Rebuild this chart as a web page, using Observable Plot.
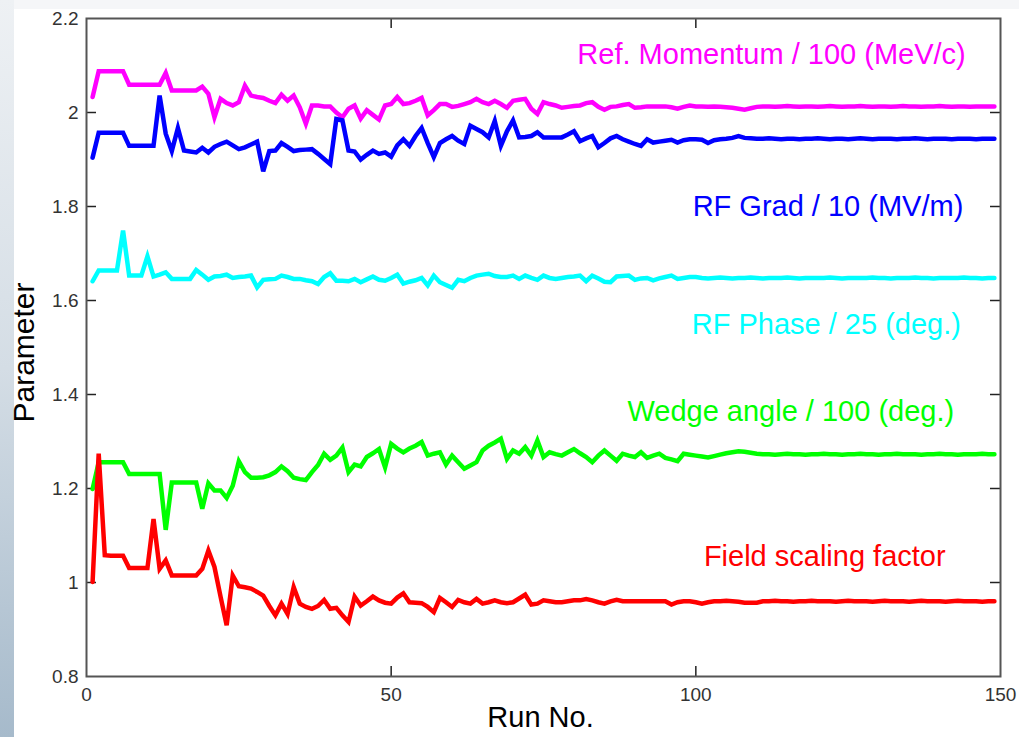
<!DOCTYPE html>
<html><head><meta charset="utf-8">
<script src="https://cdn.jsdelivr.net/npm/d3@7"></script>
<script src="https://cdn.jsdelivr.net/npm/@observablehq/plot@0.6"></script>
<style>
body{margin:0;background:#fff;}
#wrap{position:relative;width:1019px;height:737px;overflow:hidden;background:#fff;}
#topband{position:absolute;left:0;top:0;width:1019px;height:9px;background:#f5f6f8;}
#strip{position:absolute;left:0;top:0;width:14px;height:737px;background:linear-gradient(#eef1f4,#d4dde5 50%,#a6bacb);}
#chart{position:absolute;left:0;top:0;}
</style></head>
<body><div id="wrap"><div id="topband"></div><div id="strip"></div><div id="chart"></div></div>
<script>
// Ref. Momentum / 100 (MeV/c), runs 1..149
const momentum = [
2.033,2.088,2.088,2.088,2.088,2.088,2.059,2.059,2.059,2.059,
2.059,2.059,2.084,2.047,2.047,2.047,2.047,2.047,2.055,2.040,
1.990,2.029,2.020,2.015,2.022,2.057,2.036,2.033,2.031,2.025,
2.020,2.038,2.025,2.036,2.011,1.976,2.015,2.015,2.013,2.013,
2.000,1.990,2.008,2.015,1.987,2.005,1.995,1.985,2.015,2.018,
2.033,2.018,2.020,2.025,2.031,1.994,2.005,2.018,2.018,2.012,
2.014,2.018,2.022,2.029,2.022,2.018,2.025,2.018,2.010,2.025,
2.027,2.029,2.008,1.997,2.022,2.018,2.015,2.010,2.012,2.014,
2.015,2.020,2.022,2.012,2.006,2.012,2.013,2.016,2.018,2.010,
2.011,2.013,2.013,2.013,2.013,2.011,2.008,2.012,2.015,2.013,
2.013,2.012,2.013,2.012,2.011,2.010,2.008,2.006,2.009,2.012,
2.013,2.013,2.012,2.013,2.014,2.013,2.012,2.013,2.013,2.012,
2.013,2.014,2.013,2.012,2.013,2.013,2.014,2.013,2.012,2.013,
2.013,2.012,2.013,2.014,2.013,2.013,2.012,2.013,2.013,2.014,
2.013,2.012,2.013,2.013,2.012,2.013,2.013,2.013,2.013];
// RF Grad / 10 (MV/m)
const rfGrad = [
1.904,1.957,1.957,1.957,1.957,1.957,1.929,1.929,1.929,1.929,
1.929,2.036,1.955,1.918,1.967,1.919,1.917,1.915,1.925,1.915,
1.927,1.933,1.938,1.930,1.922,1.926,1.932,1.938,1.875,1.918,
1.919,1.935,1.927,1.918,1.920,1.921,1.922,1.912,1.901,1.890,
1.986,1.983,1.919,1.917,1.900,1.910,1.919,1.912,1.915,1.906,
1.930,1.943,1.929,1.950,1.967,1.935,1.905,1.935,1.943,1.950,
1.940,1.933,1.972,1.965,1.958,1.947,1.982,1.929,1.960,1.983,
1.947,1.948,1.950,1.958,1.947,1.947,1.947,1.947,1.953,1.960,
1.939,1.945,1.950,1.926,1.935,1.945,1.950,1.943,1.938,1.933,
1.929,1.943,1.936,1.938,1.940,1.942,1.936,1.941,1.943,1.943,
1.942,1.935,1.941,1.943,1.944,1.946,1.950,1.946,1.945,1.944,
1.944,1.945,1.944,1.943,1.944,1.944,1.943,1.944,1.944,1.945,
1.944,1.943,1.944,1.944,1.943,1.944,1.945,1.944,1.943,1.944,
1.944,1.944,1.943,1.944,1.944,1.945,1.944,1.943,1.944,1.944,
1.944,1.943,1.944,1.944,1.944,1.943,1.944,1.944,1.944];
// RF Phase / 25 (deg.)
const rfPhase = [
1.641,1.664,1.664,1.664,1.664,1.749,1.653,1.653,1.653,1.694,
1.651,1.655,1.660,1.646,1.646,1.646,1.646,1.665,1.655,1.644,
1.651,1.652,1.655,1.648,1.650,1.651,1.653,1.628,1.644,1.645,
1.646,1.653,1.650,1.646,1.646,1.643,1.641,1.635,1.650,1.658,
1.642,1.642,1.641,1.646,1.639,1.645,1.651,1.644,1.642,1.648,
1.655,1.636,1.640,1.643,1.648,1.632,1.653,1.639,1.633,1.627,
1.644,1.641,1.648,1.653,1.655,1.657,1.652,1.650,1.650,1.653,
1.646,1.653,1.648,1.644,1.653,1.648,1.646,1.648,1.650,1.651,
1.653,1.641,1.653,1.647,1.640,1.639,1.651,1.652,1.653,1.644,
1.647,1.648,1.643,1.647,1.650,1.653,1.646,1.648,1.650,1.650,
1.648,1.647,1.648,1.649,1.648,1.647,1.648,1.648,1.649,1.648,
1.647,1.648,1.648,1.648,1.649,1.648,1.647,1.648,1.648,1.648,
1.648,1.649,1.648,1.647,1.648,1.648,1.648,1.648,1.649,1.648,
1.648,1.647,1.648,1.648,1.648,1.649,1.648,1.648,1.647,1.648,
1.648,1.648,1.648,1.649,1.648,1.648,1.647,1.648,1.648];
// Wedge angle / 100 (deg.)
const wedge = [
1.199,1.256,1.256,1.256,1.256,1.256,1.231,1.231,1.231,1.231,
1.231,1.231,1.112,1.213,1.213,1.213,1.213,1.213,1.157,1.211,
1.196,1.196,1.180,1.206,1.258,1.235,1.223,1.223,1.224,1.228,
1.235,1.247,1.237,1.223,1.220,1.218,1.235,1.250,1.274,1.261,
1.270,1.287,1.235,1.251,1.247,1.267,1.275,1.284,1.245,1.295,
1.285,1.277,1.285,1.291,1.299,1.270,1.274,1.277,1.251,1.270,
1.256,1.242,1.249,1.256,1.281,1.291,1.298,1.306,1.263,1.281,
1.274,1.288,1.270,1.302,1.267,1.277,1.273,1.270,1.277,1.284,
1.275,1.267,1.256,1.270,1.281,1.270,1.259,1.274,1.270,1.267,
1.277,1.265,1.270,1.274,1.265,1.262,1.258,1.274,1.272,1.270,
1.268,1.266,1.269,1.272,1.275,1.277,1.279,1.278,1.276,1.274,
1.273,1.273,1.272,1.273,1.274,1.273,1.273,1.272,1.273,1.273,
1.274,1.273,1.273,1.272,1.273,1.273,1.274,1.273,1.273,1.272,
1.273,1.273,1.274,1.273,1.273,1.273,1.272,1.273,1.273,1.274,
1.273,1.273,1.272,1.273,1.273,1.273,1.274,1.273,1.273];
// Field scaling factor
const fieldScale = [
1.001,1.274,1.058,1.057,1.057,1.057,1.031,1.031,1.031,1.031,
1.135,1.029,1.047,1.015,1.015,1.015,1.015,1.015,1.029,1.068,
1.033,0.970,0.909,1.015,0.992,0.990,0.987,0.980,0.972,0.950,
0.930,0.955,0.933,0.990,0.955,0.948,0.944,0.950,0.963,0.944,
0.946,0.930,0.916,0.970,0.951,0.960,0.970,0.962,0.957,0.955,
0.968,0.977,0.958,0.957,0.956,0.948,0.937,0.967,0.958,0.948,
0.963,0.958,0.955,0.965,0.955,0.958,0.962,0.958,0.956,0.958,
0.966,0.974,0.953,0.955,0.962,0.960,0.958,0.958,0.960,0.962,
0.962,0.965,0.962,0.958,0.955,0.960,0.963,0.960,0.960,0.960,
0.960,0.960,0.960,0.960,0.960,0.953,0.958,0.960,0.960,0.958,
0.955,0.958,0.960,0.960,0.961,0.960,0.959,0.957,0.957,0.957,
0.960,0.960,0.961,0.960,0.960,0.959,0.960,0.960,0.961,0.960,
0.960,0.960,0.959,0.960,0.961,0.960,0.960,0.960,0.959,0.960,
0.961,0.960,0.960,0.960,0.959,0.960,0.961,0.960,0.960,0.960,
0.959,0.960,0.961,0.960,0.960,0.960,0.959,0.960,0.960];

const seriesNames = ["Ref. Momentum / 100 (MeV/c)","RF Grad / 10 (MV/m)","RF Phase / 25 (deg.)","Wedge angle / 100 (deg.)","Field scaling factor"];
const seriesValues = [momentum, rfGrad, rfPhase, wedge, fieldScale];
const seriesColors = ["#ff00ff","#0000ff","#00ffff","#00ff00","#ff0000"];
// label anchor positions (data units)
const labelRuns = [144.3, 143.9, 143.5, 142.4, 141.0];
const labelValues = [2.124, 1.800, 1.549, 1.364, 1.055];

const xTicks = [0, 50, 100, 150];
const yTicks = [0.8, 1.0, 1.2, 1.4, 1.6, 1.8, 2.0, 2.2];

const table = seriesNames.flatMap((name, k) =>
  seriesValues[k].map((v, i) => ({run: i + 1, value: v, name, color: seriesColors[k]})));
const labels = seriesNames.map((name, k) => ({text: name, x: labelRuns[k], y: labelValues[k], color: seriesColors[k]}));

const fmt = d3.format("~g");
const chart = Plot.plot({
  width: 1019, height: 737,
  marginLeft: 86, marginRight: 19, marginTop: 18, marginBottom: 61,
  style: {background: "transparent", fontFamily: "'Liberation Sans', Arial, sans-serif", overflow: "visible"},
  x: {domain: [0, 150]},
  y: {domain: [0.8, 2.2]},
  color: {type: "identity"},
  marks: [
    Plot.tickX(xTicks.slice(1, -1), {x: d => d, insetTop: 648, stroke: "#222", strokeWidth: 1.5}),
    Plot.tickX(xTicks.slice(1, -1), {x: d => d, insetBottom: 648, stroke: "#222", strokeWidth: 1.5}),
    Plot.tickY(yTicks.slice(1, -1), {y: d => d, insetRight: 904, stroke: "#222", strokeWidth: 1.5}),
    Plot.tickY(yTicks.slice(1, -1), {y: d => d, insetLeft: 904, stroke: "#222", strokeWidth: 1.5}),
    Plot.axisX(xTicks, {tickSize: 0, tickPadding: 11, fontSize: 19, fill: "#333", label: null}),
    Plot.axisY(yTicks, {tickSize: 0, tickPadding: 8, fontSize: 19, fill: "#333", label: null, tickFormat: fmt}),
    Plot.line(table, {x: "run", y: "value", z: "name", stroke: "color", strokeWidth: 4.5, strokeLinejoin: "miter", strokeMiterlimit: 4}),
    Plot.frame({stroke: "#555", strokeWidth: 2}),
    Plot.text(labels, {x: "x", y: "y", text: "text", fill: "color", textAnchor: "end", lineAnchor: "middle", fontSize: 29}),
    Plot.text(["Parameter"], {frameAnchor: "left", dx: -62, dy: 5, rotate: -90, textAnchor: "middle", lineAnchor: "middle", fontSize: 30, fill: "#000"}),
    Plot.text(["Run No."], {frameAnchor: "bottom", dx: -3, dy: 41, textAnchor: "middle", lineAnchor: "middle", fontSize: 29, fill: "#000"})
  ]
});
document.getElementById("chart").appendChild(chart);
</script>
</body></html>
